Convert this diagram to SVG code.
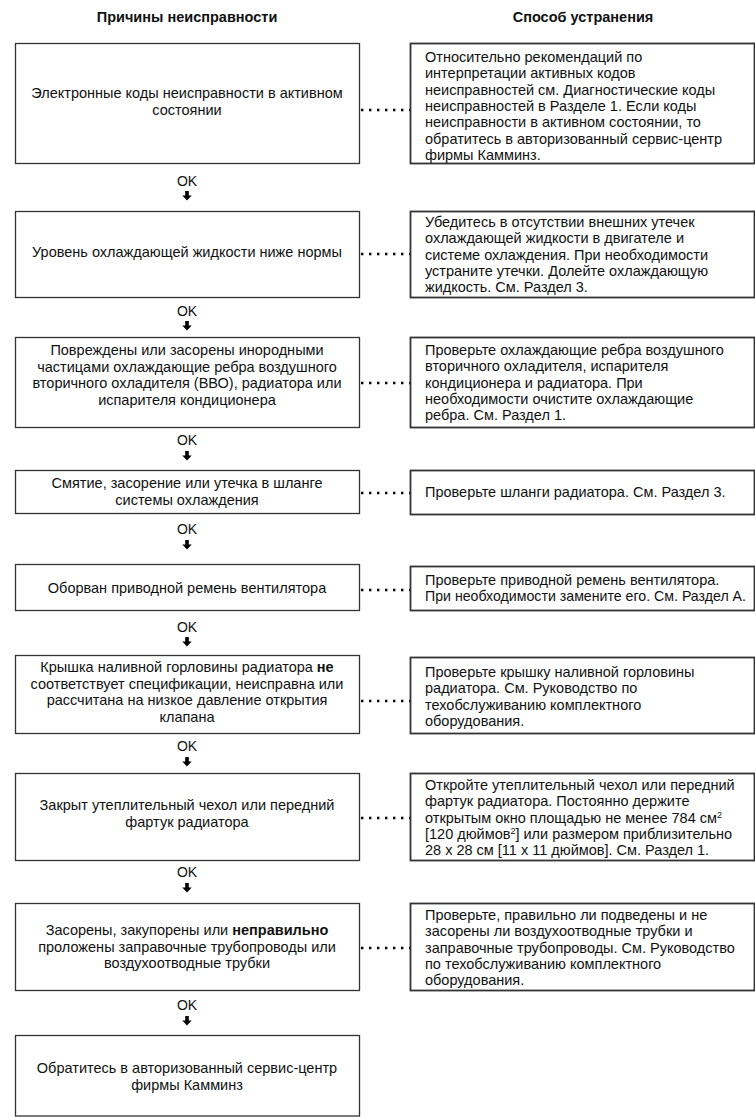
<svg xmlns="http://www.w3.org/2000/svg" width="755" height="1117" viewBox="0 0 755 1117">
<style>
text{font-family:"Liberation Sans",Arial,sans-serif;font-size:14.5px;fill:#111}
.h{font-weight:bold;text-anchor:middle}
.c{text-anchor:middle}
.l{text-anchor:start}
.b{font-weight:bold}
.ok{text-anchor:middle;font-size:14px}
.bl{fill:#fff;stroke:#333;stroke-width:1.3}
.br{fill:#fff;stroke:#333;stroke-width:1.8}
.dot{stroke:#000;stroke-width:2.4;stroke-dasharray:2.4 5.6;fill:none}
.sup{font-size:9px}
</style>
<defs>
<path id="arr" d="M-1.8,-5 h3.6 v4.5 h2.9 l-4.7,5 l-4.7,-5 h2.9 z" fill="#000"/>
</defs>
<rect width="755" height="1117" fill="#fff"/>
<g id="headers">
<text class="h" x="187" y="22">Причины неисправности</text>
<text class="h" x="583" y="22">Способ устранения</text>
</g>
<g id="connectors">
<line class="dot" x1="361" y1="110" x2="411" y2="110"/>
<line class="dot" x1="361" y1="254" x2="411" y2="254"/>
<line class="dot" x1="361" y1="383" x2="411" y2="383"/>
<line class="dot" x1="361" y1="493" x2="411" y2="493"/>
<line class="dot" x1="361" y1="590" x2="411" y2="590"/>
<line class="dot" x1="361" y1="701" x2="411" y2="701"/>
<line class="dot" x1="361" y1="818" x2="411" y2="818"/>
<line class="dot" x1="361" y1="948" x2="411" y2="948"/>
<text class="ok" x="187" y="186">OK</text><use href="#arr" x="187" y="196"/>
<text class="ok" x="187" y="316">OK</text><use href="#arr" x="187" y="326"/>
<text class="ok" x="187" y="445">OK</text><use href="#arr" x="187" y="456"/>
<text class="ok" x="187" y="534">OK</text><use href="#arr" x="187" y="545"/>
<text class="ok" x="187" y="632">OK</text><use href="#arr" x="187" y="642"/>
<text class="ok" x="187" y="751">OK</text><use href="#arr" x="187" y="762"/>
<text class="ok" x="187" y="877">OK</text><use href="#arr" x="187" y="888"/>
<text class="ok" x="187" y="1010">OK</text><use href="#arr" x="187" y="1021"/>
</g>
<g id="cause1"><rect class="bl" x="15.5" y="43.5" width="344" height="120"/>
<text class="c" x="187" y="98">Электронные коды неисправности в активном</text>
<text class="c" x="187" y="115">состоянии</text></g>
<g id="fix1"><rect class="br" x="410.5" y="43.5" width="344" height="120"/>
<text class="l" x="425" y="62">Относительно рекомендаций по</text>
<text class="l" x="425" y="78.3">интерпретации активных кодов</text>
<text class="l" x="425" y="94.6">неисправностей см. Диагностические коды</text>
<text class="l" x="425" y="110.9">неисправностей в Разделе 1. Если коды</text>
<text class="l" x="425" y="127.2">неисправности в активном состоянии, то</text>
<text class="l" x="425" y="143.5">обратитесь в авторизованный сервис-центр</text>
<text class="l" x="425" y="159.8">фирмы Камминз.</text></g>
<g id="cause2"><rect class="bl" x="15.5" y="211.5" width="344" height="86"/>
<text class="c" x="187" y="257">Уровень охлаждающей жидкости ниже нормы</text></g>
<g id="fix2"><rect class="br" x="410.5" y="211.5" width="344" height="86"/>
<text class="l" x="425" y="227">Убедитесь в отсутствии внешних утечек</text>
<text class="l" x="425" y="243.3">охлаждающей жидкости в двигателе и</text>
<text class="l" x="425" y="259.6">системе охлаждения. При необходимости</text>
<text class="l" x="425" y="275.9">устраните утечки. Долейте охлаждающую</text>
<text class="l" x="425" y="292.2">жидкость. См. Раздел 3.</text></g>
<g id="cause3"><rect class="bl" x="15.5" y="337.5" width="344" height="90"/>
<text class="c" x="187" y="355">Повреждены или засорены инородными</text>
<text class="c" x="187" y="371.5">частицами охлаждающие ребра воздушного</text>
<text class="c" x="187" y="388">вторичного охладителя (ВВО), радиатора или</text>
<text class="c" x="187" y="404.5">испарителя кондиционера</text></g>
<g id="fix3"><rect class="br" x="410.5" y="337.5" width="344" height="90"/>
<text class="l" x="425" y="355">Проверьте охлаждающие ребра воздушного</text>
<text class="l" x="425" y="371.3">вторичного охладителя, испарителя</text>
<text class="l" x="425" y="387.6">кондиционера и радиатора. При</text>
<text class="l" x="425" y="403.9">необходимости очистите охлаждающие</text>
<text class="l" x="425" y="420.2">ребра. См. Раздел 1.</text></g>
<g id="cause4"><rect class="bl" x="15.5" y="470.5" width="344" height="43"/>
<text class="c" x="187" y="488">Смятие, засорение или утечка в шланге</text>
<text class="c" x="187" y="505">системы охлаждения</text></g>
<g id="fix4"><rect class="br" x="410.5" y="470.5" width="344" height="44"/>
<text class="l" x="425" y="497">Проверьте шланги радиатора. См. Раздел 3.</text></g>
<g id="cause5"><rect class="bl" x="15.5" y="564.5" width="344" height="46"/>
<text class="c" x="187" y="593">Оборван приводной ремень вентилятора</text></g>
<g id="fix5"><rect class="br" x="410.5" y="566.5" width="344" height="44"/>
<text class="l" x="425" y="585">Проверьте приводной ремень вентилятора.</text>
<text class="l" x="425" y="601.3" textLength="321" lengthAdjust="spacingAndGlyphs">При необходимости замените его. См. Раздел А.</text></g>
<g id="cause6"><rect class="bl" x="15.5" y="655.5" width="344" height="78"/>
<text class="c" x="187" y="672">Крышка наливной горловины радиатора <tspan class="b">не</tspan></text>
<text class="c" x="187" y="688.5">соответствует спецификации, неисправна или</text>
<text class="c" x="187" y="705">рассчитана на низкое давление открытия</text>
<text class="c" x="187" y="721.5">клапана</text></g>
<g id="fix6"><rect class="br" x="410.5" y="657.5" width="344" height="76"/>
<text class="l" x="425" y="677">Проверьте крышку наливной горловины</text>
<text class="l" x="425" y="693.3">радиатора. См. Руководство по</text>
<text class="l" x="425" y="709.6">техобслуживанию комплектного</text>
<text class="l" x="425" y="725.9">оборудования.</text></g>
<g id="cause7"><rect class="bl" x="15.5" y="773.5" width="344" height="87"/>
<text class="c" x="187" y="810">Закрыт утеплительный чехол или передний</text>
<text class="c" x="187" y="826.5">фартук радиатора</text></g>
<g id="fix7"><rect class="br" x="410.5" y="773.5" width="344" height="87"/>
<text class="l" x="425" y="790">Откройте утеплительный чехол или передний</text>
<text class="l" x="425" y="806.3">фартук радиатора. Постоянно держите</text>
<text class="l" x="425" y="822.6">открытым окно площадью не менее 784 см<tspan class="sup" dy="-5">2</tspan></text>
<text class="l" x="425" y="838.9">[120 дюймов<tspan class="sup" dy="-5">2</tspan><tspan dy="5">] или размером приблизительно</tspan></text>
<text class="l" x="425" y="855.2">28 x 28 см [11 x 11 дюймов]. См. Раздел 1.</text></g>
<g id="cause8"><rect class="bl" x="15.5" y="903.5" width="344" height="87"/>
<text class="c" x="187" y="935">Засорены, закупорены или <tspan class="b">неправильно</tspan></text>
<text class="c" x="187" y="951.5">проложены заправочные трубопроводы или</text>
<text class="c" x="187" y="968">воздухоотводные трубки</text></g>
<g id="fix8"><rect class="br" x="410.5" y="903.5" width="344" height="87"/>
<text class="l" x="425" y="920">Проверьте, правильно ли подведены и не</text>
<text class="l" x="425" y="936.3">засорены ли воздухоотводные трубки и</text>
<text class="l" x="425" y="952.6">заправочные трубопроводы. См. Руководство</text>
<text class="l" x="425" y="968.9">по техобслуживанию комплектного</text>
<text class="l" x="425" y="985.2">оборудования.</text></g>
<g id="cause9"><rect class="bl" x="15.5" y="1035.5" width="344" height="80.5"/>
<text class="c" x="187" y="1073">Обратитесь в авторизованный сервис-центр</text>
<text class="c" x="187" y="1090">фирмы Камминз</text></g>
</svg>
